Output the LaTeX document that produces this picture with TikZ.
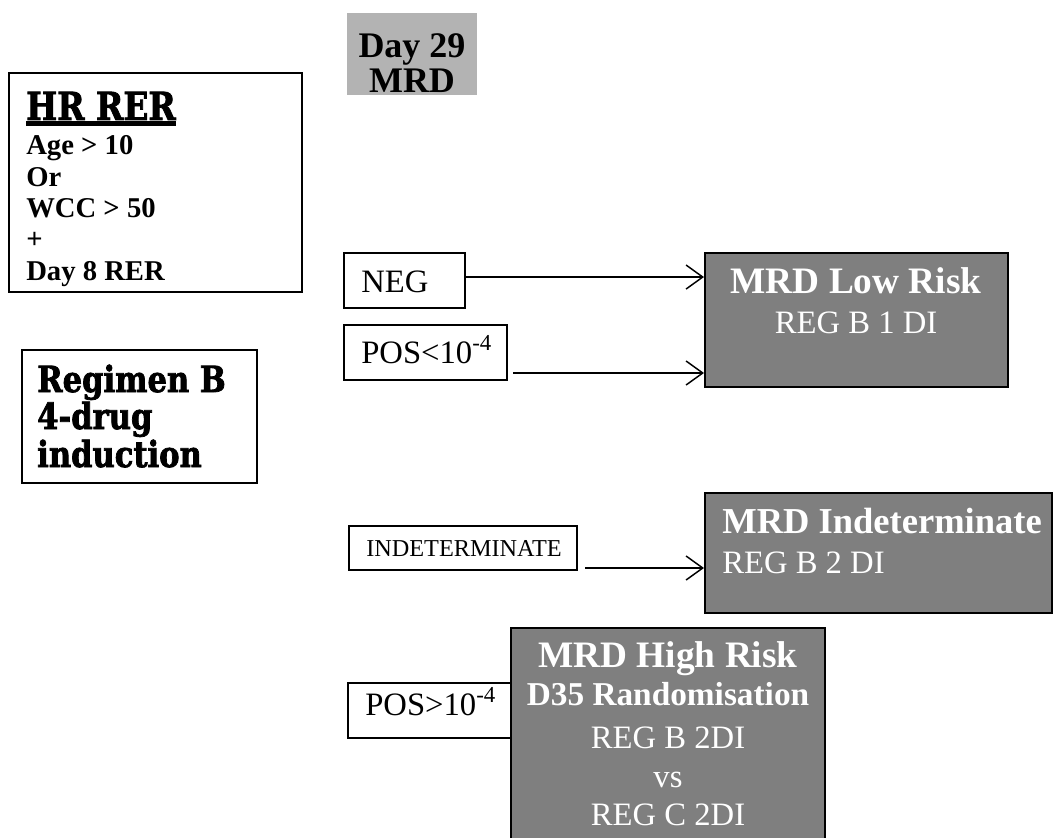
\documentclass[tikz,border=0pt]{standalone}
\usepackage{fontspec}
\setmainfont{Liberation Serif}
\newfontfamily\heavyfont[FakeStretch=0.85,FakeBold=2]{DejaVu Serif}
\usetikzlibrary{arrows.meta,fit}
\definecolor{riskgrey}{HTML}{7F7F7F}
\definecolor{headgrey}{HTML}{B3B3B3}
\tikzset{
  frame/.style={draw, line width=1.3pt, inner sep=0pt, fill=white},
  thinframe/.style={draw, line width=1pt, inner sep=0pt, fill=white},
  riskbox/.style={draw, line width=1.5pt, fill=riskgrey, inner sep=0pt},
  txt/.style={inner sep=0pt, anchor=base west},
  ctxt/.style={inner sep=0pt, anchor=base},
  wtxt/.style={inner sep=0pt, text=white},
  flow/.style={-{Straight Barb[length=12.5pt,width=18pt]}, line width=1.1pt},
  heavy/.style={font={\heavyfont\bfseries\fontsize{27pt}{27pt}\selectfont}},
  crit/.style={font={\bfseries\fontsize{21.5pt}{21.5pt}\selectfont}},
  lab/.style={font={\fontsize{24.5pt}{24.5pt}\selectfont}},
  riskhead/.style={font={\bfseries\fontsize{28pt}{28pt}\selectfont}},
  riskbody/.style={font={\fontsize{24.5pt}{24.5pt}\selectfont}},
}
\begin{document}
\begin{tikzpicture}[x=0.75pt,y=-0.75pt]
\useasboundingbox (0,0) rectangle (1053,838);

% eligibility criteria
\node[frame, fit={(9,73)(302,292)}] (hr) {};
\node[txt, heavy, font={\heavyfont\bfseries\fontsize{29pt}{29pt}\selectfont}] (hrtitle) at (26,120) {HR RER};
\draw[line width=3.4pt] ([yshift=-2.8pt]hrtitle.base west) -- ([yshift=-2.8pt]hrtitle.base east);
\foreach \t [count=\i] in {Age > 10, Or, WCC > 50, +, Day 8 RER}
  \node[txt, crit] (crit\i) at (26,{155+(\i-1)*31.25}) {\t};

% induction regimen
\node[frame, fit={(22,350)(257,483)}] (induction) {};
\node[txt, heavy] (ind1) at (37,392) {Regimen B};
\node[txt, heavy] (ind2) at (37,429) {4-drug};
\node[txt, heavy] (ind3) at (37,467) {induction};

% time point header
\node[fill=headgrey, inner sep=0pt, fit={(347,13)(477,95)}] (day) {};
\node[ctxt, font={\bfseries\fontsize{27pt}{27pt}\selectfont}] (day1) at (412,58) {Day 29};
\node[ctxt, font={\bfseries\fontsize{27pt}{27pt}\selectfont}] (day2) at (412,93) {MRD};

% MRD results
\node[frame, fit={(344,253)(465,308)}] (neg) {};
\node[txt, lab] (negt) at (361,292) {NEG};
\node[frame, fit={(344,325)(507,380)}] (posl) {};
\node[txt, lab] (poslt) at (361,363) {POS<10\textsuperscript{-4}};
\node[thinframe, fit={(349,526)(577,570)}] (indet) {};
\node[txt, font={\fontsize{18.2pt}{18.2pt}\selectfont}] (indett) at (366,556) {INDETERMINATE};
\node[frame, fit={(348,683)(511,738)}] (posg) {};
\node[txt, lab] (posgt) at (365,715) {POS>10\textsuperscript{-4}};

% risk groups
\node[riskbox, fit={(705,253)(1008,387)}] (low) {};
\node[wtxt, ctxt, riskhead] (low1) at (856,293) {MRD Low Risk};
\node[wtxt, ctxt, riskbody] (low2) at (856,333) {REG B 1 DI};

\node[riskbox, fit={(705,493)(1052,613)}] (mid) {};
\node[wtxt, txt, font={\bfseries\fontsize{27.4pt}{27.4pt}\selectfont}] (mid1) at (722,533) {MRD Indeterminate};
\node[wtxt, txt, riskbody] (mid2) at (722,573) {REG B 2 DI};

\node[riskbox, fit={(511,628)(825,860)}] (high) {};
\node[wtxt, ctxt, riskhead] (high1) at (668,667) {MRD High Risk};
\node[wtxt, ctxt, font={\bfseries\fontsize{25pt}{25pt}\selectfont}] (high2) at (668,705) {D35 Randomisation};
\node[wtxt, ctxt, riskbody] (high3) at (668,748) {REG B 2DI};
\node[wtxt, ctxt, riskbody] (high4) at (668,787) {vs};
\node[wtxt, ctxt, riskbody] (high5) at (668,825) {REG C 2DI};

% connectors
\draw[flow] ([yshift=2.6pt]neg.east) -- ([yshift=2.6pt]neg.east -| low.west);
\coordinate (poslout) at (513,373);
\draw[flow] (poslout) -- (poslout -| low.west);
\coordinate (indetout) at (585,568);
\draw[flow] (indetout) -- (indetout -| mid.west);
\end{tikzpicture}
\end{document}
